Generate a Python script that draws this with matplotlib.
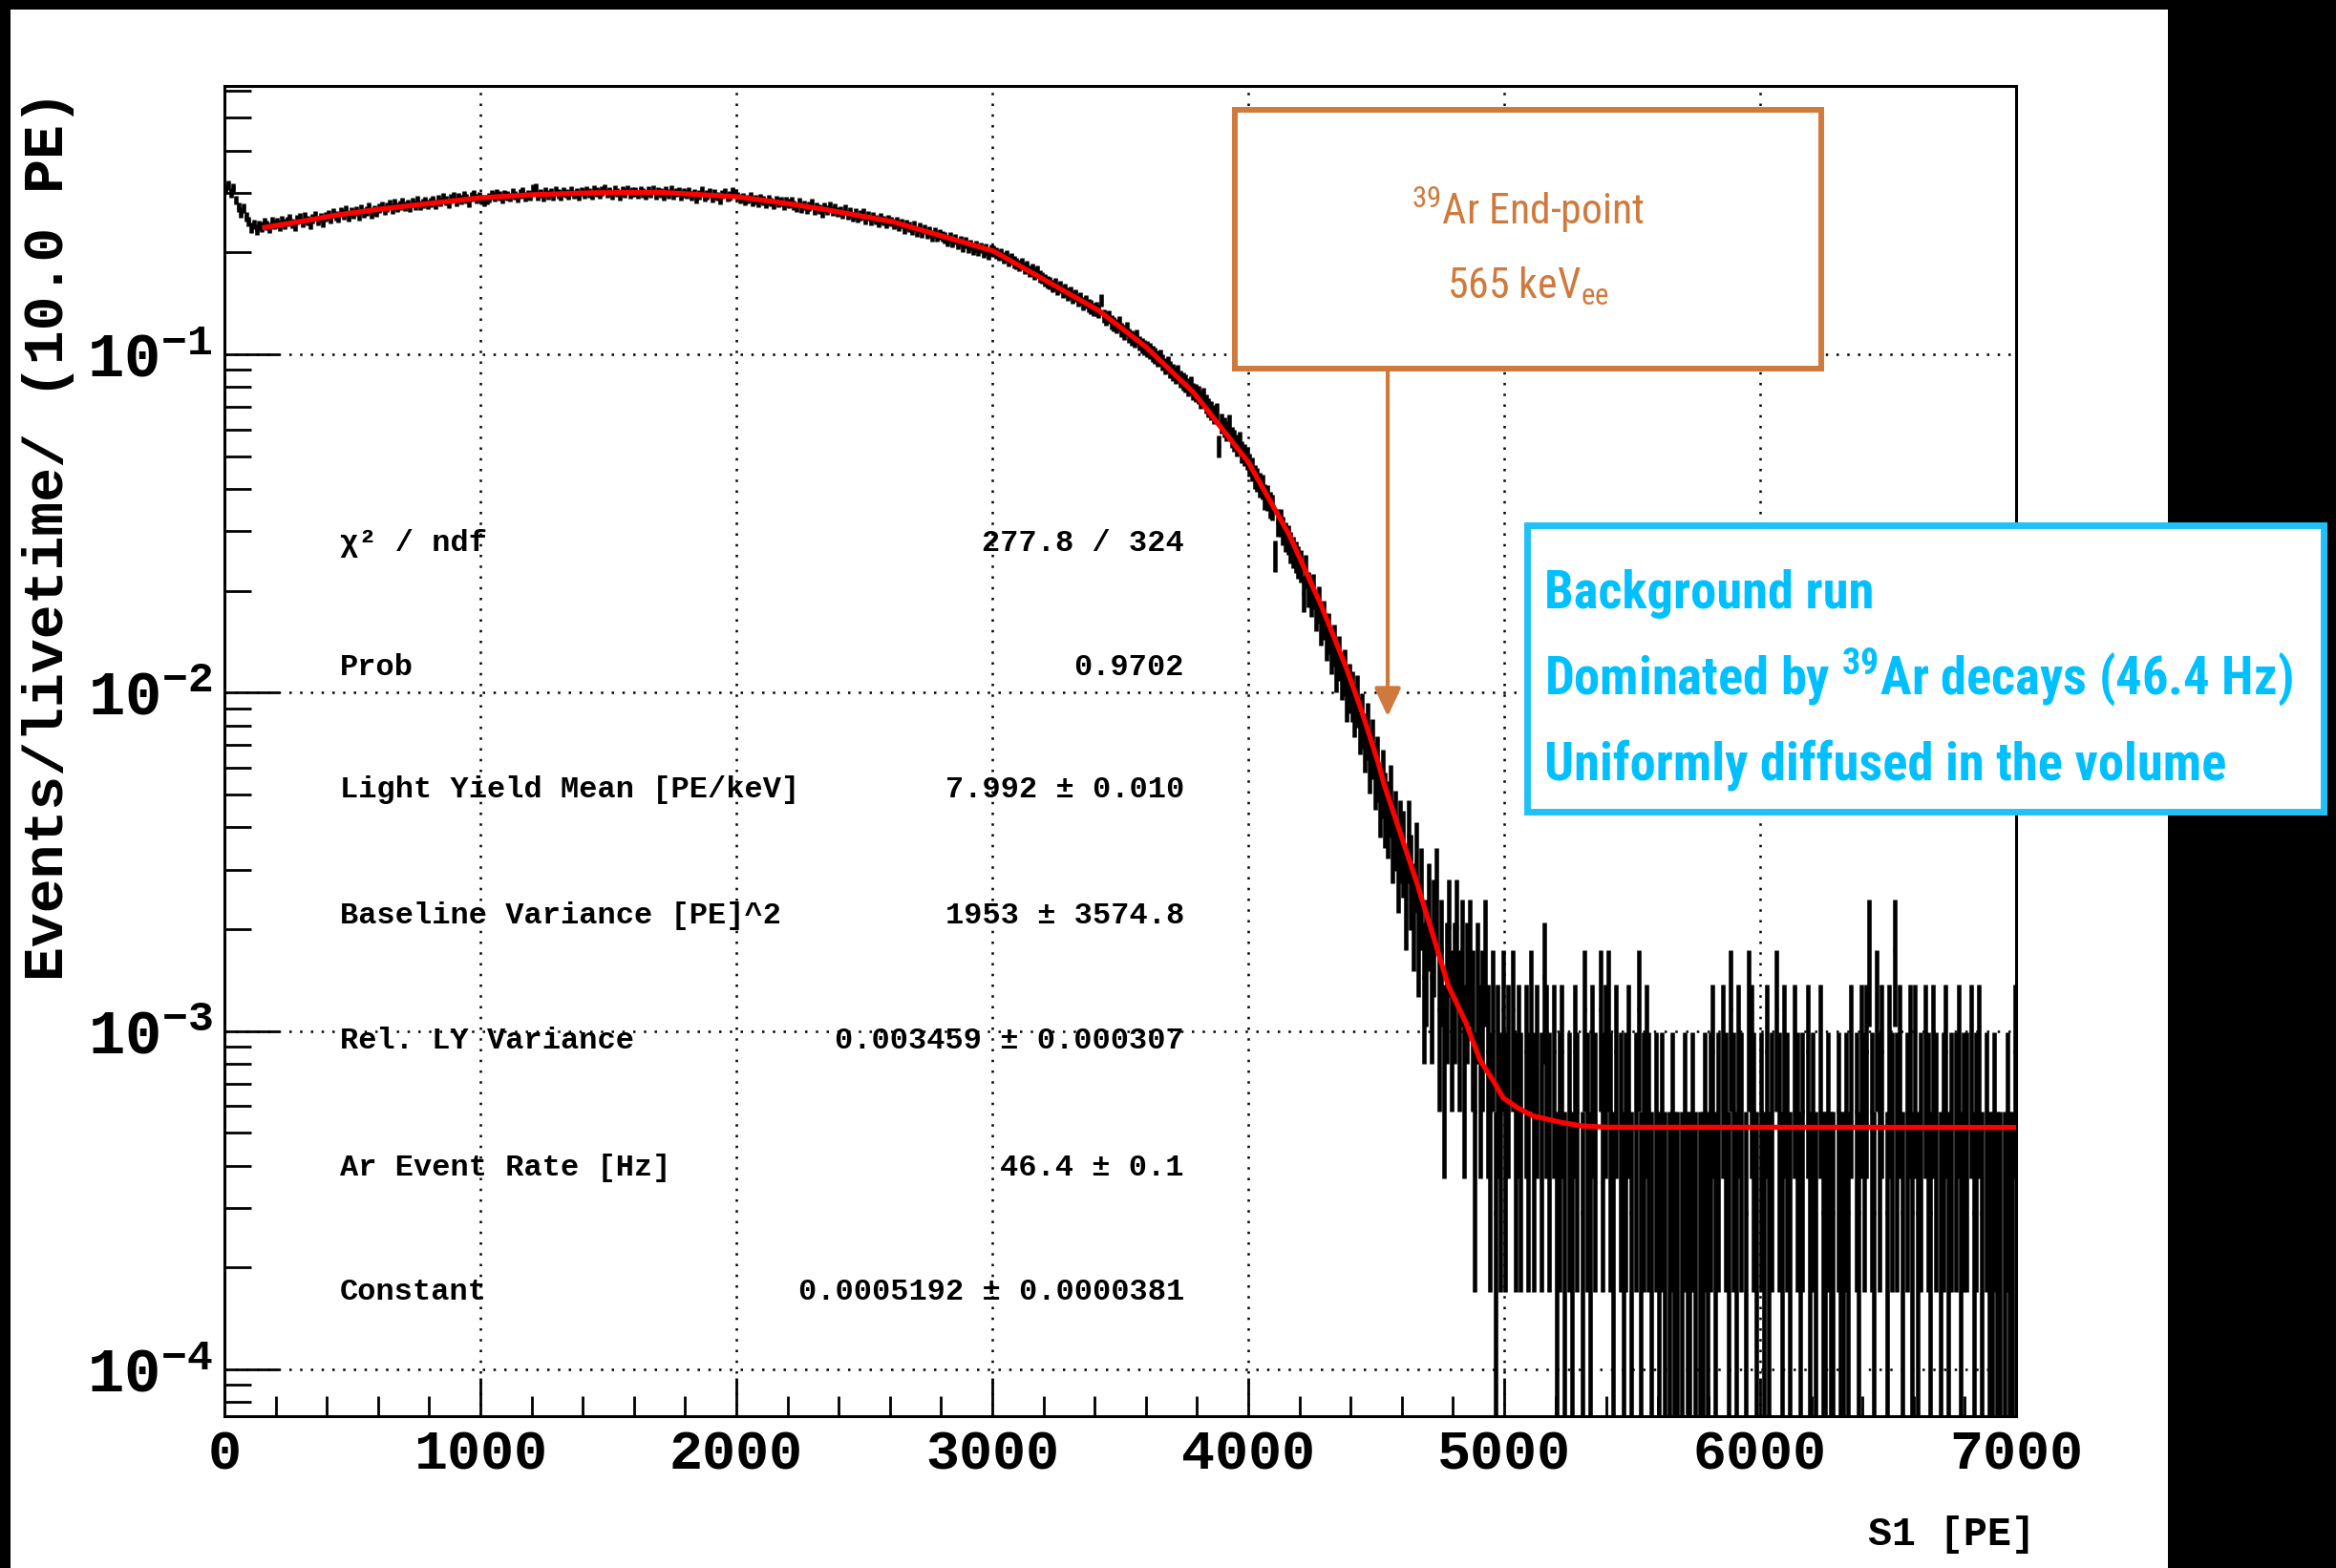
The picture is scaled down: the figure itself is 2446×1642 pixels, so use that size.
import numpy as np
import matplotlib.pyplot as plt
from matplotlib import font_manager
from matplotlib.patches import Rectangle
from matplotlib.ticker import MultipleLocator, LogLocator, NullFormatter

# S1 spectrum of the background run: raw counts in 10 PE bins, 0 - 7000 PE
counts_plateau = [  # 0 - 2000 PE
    1060, 1090, 1035, 1070, 985, 940, 905, 930, 880, 850, 815, 835, 805, 830, 820, 845, 830, 815, 850, 835,
    842, 825, 858, 837, 850, 866, 840, 828, 862, 871, 845, 880, 858, 836, 869, 884, 857, 872, 846, 878,
    890, 868, 902, 885, 874, 910, 893, 920, 881, 906, 897, 915, 888, 928, 902, 912, 935, 897, 921, 909,
    930, 946, 918, 941, 955, 929, 962, 938, 950, 972, 944, 958, 936, 969, 953, 980, 948, 963, 975, 957,
    968, 985, 956, 990, 972, 1004, 981, 962, 995, 1010, 977, 1001, 988, 1015, 996, 970, 1008, 1022, 993, 1006,
    990, 978, 985, 1002, 1020, 1008, 1030, 1015, 996, 1024, 1012, 1005, 1035, 1018, 1000, 1026, 1041, 1009, 1022, 1016,
    1065, 1070, 1012, 1030, 1005, 1044, 1021, 1037, 1010, 1052, 1027, 1015, 1040, 1031, 1019, 1048, 1024, 1036, 1011, 1045,
    1029, 1050, 1036, 1018, 1055, 1041, 1026, 1047, 1060, 1032, 1044, 1021, 1053, 1038, 1015, 1049, 1034, 1058, 1027, 1042,
    1040, 1025, 1052, 1036, 1019, 1046, 1031, 1057, 1022, 1043, 1035, 1012, 1048, 1029, 1054, 1020, 1038, 1045, 1016, 1033,
    1024, 1040, 1012, 1031, 995, 1022, 1046, 1008, 1019, 1034, 1000, 1027, 1011, 985, 1023, 1038, 1005, 1016, 1044, 1030,
]
counts_falloff = [  # 2000 - 4000 PE
    1010, 995, 1002, 980, 992, 1006, 975, 988, 970, 997, 983, 965, 990, 972, 958, 985, 969, 978, 950, 973,
    962, 978, 950, 941, 967, 935, 952, 925, 946, 960, 918, 939, 927, 905, 936, 921, 942, 912, 930, 908,
    915, 898, 926, 890, 905, 880, 899, 872, 888, 901, 866, 884, 858, 879, 863, 847, 871, 856, 842, 860,
    852, 836, 848, 825, 840, 812, 831, 820, 804, 826, 795, 815, 790, 808, 783, 797, 772, 790, 768, 781,
    770, 762, 748, 766, 740, 753, 732, 745, 720, 738, 711, 726, 705, 719, 698, 713, 690, 706, 684, 700,
    695, 688, 676, 684, 665, 672, 652, 660, 646, 638, 630, 641, 618, 626, 607, 614, 598, 606, 586, 580,
    570, 562, 560, 548, 555, 538, 546, 528, 533, 519, 525, 508, 514, 498, 505, 488, 494, 480, 476, 468,
    470, 462, 498, 448, 441, 445, 430, 424, 418, 426, 408, 401, 410, 392, 386, 380, 388, 372, 366, 362,
    358, 353, 346, 342, 335, 338, 326, 318, 322, 311, 305, 299, 303, 292, 287, 283, 276, 280, 268, 266,
    262, 254, 258, 246, 240, 236, 229, 232, 185, 216, 210, 205, 214, 196, 192, 186, 190, 178, 174, 170,
]
counts_edge = [  # 4000 - 5000 PE
    163, 158, 150, 147, 142, 140, 131, 130, 124, 122, 88, 110, 110, 104, 100, 98, 93, 90, 87, 84,
    82, 68, 79, 70, 66, 69, 60, 63, 55, 57, 50, 52, 46, 48, 41, 44, 39, 40, 34, 36,
    34, 31, 33, 28, 29, 25, 27, 22, 24, 20, 21, 17, 19, 16, 15, 17, 13, 14, 11, 13,
    12, 9, 13, 10, 8, 11, 7, 9, 5, 6, 8, 5, 7, 9, 4, 6, 3, 5, 7, 4,
    5, 7, 4, 6, 3, 5, 6, 4, 2, 5, 3, 4, 6, 3, 2, 4, 1, 3, 2, 4,
]
counts_tail = [  # 5000 - 7000 PE
    2, 3, 0, 4, 2, 3, 2, 0, 3, 2, 4, 2, 3, 0, 2, 5, 3, 2, 0, 3,
    1, 2, 3, 1, 0, 2, 1, 3, 2, 0, 1, 4, 2, 1, 3, 2, 0, 4, 2, 3,
    4, 2, 1, 3, 0, 2, 1, 2, 3, 1, 0, 2, 4, 1, 2, 3, 2, 1, 0, 2,
    1, 2, 1, 0, 1, 2, 1, 1, 0, 1, 2, 1, 1, 2, 1, 0, 1, 1, 2, 1,
    2, 3, 1, 2, 0, 3, 2, 1, 4, 2, 1, 3, 2, 0, 1, 4, 3, 2, 1, 0,
    2, 1, 3, 1, 2, 0, 4, 2, 1, 3, 2, 1, 0, 3, 2, 1, 2, 0, 3, 1,
    2, 1, 0, 3, 1, 1, 2, 1, 1, 0, 2, 1, 1, 2, 1, 3, 0, 2, 1, 3,
    2, 3, 6, 2, 1, 4, 2, 3, 0, 1, 3, 2, 6, 2, 3, 1, 0, 2, 3, 1,
    3, 1, 2, 0, 3, 2, 1, 3, 2, 0, 1, 2, 3, 1, 2, 0, 2, 3, 1, 2,
    2, 0, 3, 1, 2, 3, 1, 0, 2, 1, 1, 2, 1, 1, 0, 1, 2, 1, 1, 3,
]
bin_width = 10.0
rate_per_count = 2.9e-4  # events/livetime for one count

# fitted spectrum (39Ar beta shape + flat constant)
fit_const = 0.0005192
fit_pe = [157, 200, 300, 440, 600, 800, 1000, 1200, 1437, 1700, 2002, 2200, 2357, 2605, 2854,
          3004, 3228, 3414, 3601, 3787, 4000, 4160, 4284, 4384, 4446, 4508, 4533, 4600, 4657,
          4720, 4782, 4850, 4906, 4960, 4996, 5050, 5111, 5225, 5300, 5400, 7000]
fit_rate = [0.237, 0.240, 0.247, 0.258, 0.268, 0.279, 0.290, 0.296, 0.300, 0.301, 0.292, 0.279,
            0.267, 0.247, 0.218, 0.202, 0.162, 0.135, 0.105, 0.077, 0.048, 0.0293, 0.0182, 0.0118,
            0.0087, 0.0062, 0.0053, 0.00373, 0.00277, 0.00194, 0.00136, 0.00106, 0.00082, 0.000708,
            0.000635, 0.000595, 0.000562, 0.000537, 0.000525, 0.000520, fit_const]

stat_names = ['χ² / ndf', 'Prob', 'Light Yield Mean [PE/keV]', 'Baseline Variance [PE]^2',
              'Rel. LY Variance', 'Ar Event Rate [Hz]', 'Constant']
stat_values = ['277.8 / 324', '0.9702', '7.992 ± 0.010', '1953 ± 3574.8',
               '0.003459 ± 0.000307', '46.4 ± 0.1', f'{fit_const:.7f} ± 0.0000381']

x_ticks = [0, 1000, 2000, 3000, 4000, 5000, 6000, 7000]
y_ticks = [1e-4, 1e-3, 1e-2, 1e-1]
y_tick_labels = [r'$\mathregular{10^{-4}}$', r'$\mathregular{10^{-3}}$',
                 r'$\mathregular{10^{-2}}$', r'$\mathregular{10^{-1}}$']

endpoint_lines = [r'$\mathregular{^{39}}$Ar End-point', r'565 keV$\mathregular{_{ee}}$']
run_lines = ['Background run', r'Dominated by $\mathregular{^{39}}$Ar decays (46.4 Hz)',
             'Uniformly diffused in the volume']
endpoint_pe, endpoint_rate = 4545, 0.0085

orange = '#CF7A3C'
cyan_edge = '#21C1F8'
cyan_text = '#00C0FF'

plt.rcParams['font.family'] = 'Liberation Mono'
plt.rcParams['font.weight'] = 'bold'
plt.rcParams['axes.labelweight'] = 'bold'

installed = {f.name for f in font_manager.fontManager.ttflist}
narrow = next((n for n in ['Liberation Sans Narrow', 'Roboto Condensed', 'Open Sans Condensed',
                           'DejaVu Sans Condensed'] if n in installed), 'DejaVu Sans')

W, H = 2446, 1642
fig = plt.figure(figsize=(W / 100, H / 100), dpi=100, facecolor='black')
fig.add_artist(Rectangle((11 / W, 0), (2270 - 11) / W, (H - 10) / H, transform=fig.transFigure,
                         facecolor='white', edgecolor='none', zorder=-10))

ax = fig.add_axes([235 / W, 1 - 1483 / H, 1876 / W, 1393 / H])

counts = np.array(counts_plateau + counts_falloff + counts_edge + counts_tail, dtype=float)
centers = bin_width * (np.arange(counts.size) + 0.5)
filled = counts > 0
rate = counts * rate_per_count
err = np.sqrt(counts) * rate_per_count
lo = np.clip(rate - err, 1e-9, None)
hi = rate + err

ax.vlines(centers[filled], lo[filled], hi[filled], color='black', lw=3.3, zorder=2)
ax.hlines(rate[filled], centers[filled] - bin_width / 2, centers[filled] + bin_width / 2,
          color='black', lw=3.3, zorder=2)
ax.plot(fit_pe, fit_rate, color='red', lw=3.8, zorder=3)

ax.set_yscale('log')
ax.set_xlim(0, 7000)
ax.set_ylim(7.28e-5, 0.6206)

ax.set_xticks(x_ticks)
ax.xaxis.set_minor_locator(MultipleLocator(200))
ax.set_yticks(y_ticks, y_tick_labels)
ax.yaxis.set_minor_locator(LogLocator(base=10, subs=np.arange(2, 10)))
ax.yaxis.set_minor_formatter(NullFormatter())

ax.tick_params(axis='x', which='major', direction='in', length=29, width=2, labelsize=42, pad=10)
ax.tick_params(axis='x', which='minor', direction='in', length=15, width=2)
ax.tick_params(axis='y', which='major', direction='in', length=41, width=2, labelsize=46, pad=9)
ax.tick_params(axis='y', which='minor', direction='in', length=20, width=2)
ax.tick_params(top=False, right=False, which='both')

ax.grid(which='major', color='black', linestyle=(0, (1, 3.5)), lw=1.8)
ax.set_axisbelow(True)
for s in ax.spines.values():
    s.set_linewidth(2.2)

fig.text(23 / W, 1 - 94 / H, 'Events/livetime/ (10.0 PE)', fontsize=43, fontweight='bold',
         rotation=90, ha='left', va='top')
ax.set_xlabel('S1 [PE]', fontsize=30, fontweight='bold', loc='right')
ax.xaxis.set_label_coords(1.0107, -0.0747)

# fit results
stat_y = [0.656, 0.563, 0.471, 0.376, 0.282, 0.187, 0.093]
for name, val, yy in zip(stat_names, stat_values, stat_y):
    ax.text(0.0645, yy, name, transform=ax.transAxes, fontsize=23, ha='left', va='center')
    ax.text(0.5357, yy, val, transform=ax.transAxes, fontsize=23, ha='right', va='center')

# end-point callout
fig.add_artist(Rectangle((1293 / W, 1 - 386 / H), (1907 - 1293) / W, (386 - 115) / H,
                         transform=fig.transFigure, facecolor='white', edgecolor=orange,
                         lw=4.3, zorder=5))
ep_texts = [fig.text(1600 / W, 1 - yb / H, s, color=orange, fontsize=45, family=narrow,
                     fontweight='normal', fontstretch='condensed', ha='center', va='baseline',
                     zorder=6)
            for s, yb in zip(endpoint_lines, [235, 313])]
ax.annotate('', xy=(endpoint_pe, endpoint_rate), xycoords='data',
            xytext=(endpoint_pe, 1 - 389 / H), textcoords=('data', 'figure fraction'),
            arrowprops=dict(arrowstyle='-|>,head_length=0.6,head_width=0.28', color=orange,
                            lw=3, mutation_scale=30, shrinkA=0, shrinkB=0), zorder=4)

# run description box
fig.add_artist(Rectangle((1599 / W, 1 - 850 / H), (2433 - 1599) / W, (850 - 550) / H,
                         transform=fig.transFigure, facecolor='white', edgecolor=cyan_edge,
                         lw=5, zorder=5))
run_texts = [fig.text(1617 / W, 1 - yb / H, s, color=cyan_text, fontsize=52, family=narrow,
                      fontweight='bold', fontstretch='condensed', ha='left', va='baseline',
                      zorder=6)
             for s, yb in zip(run_lines, [637, 727, 817])]

# keep the callout texts inside their boxes
renderer = fig.canvas.get_renderer()
for texts, widths in [(ep_texts, [250, 169]), (run_texts, [350, 784, 720])]:
    scale = min(w / t.get_window_extent(renderer).width for t, w in zip(texts, widths))
    if scale < 1:
        for t in texts:
            t.set_fontsize(t.get_fontsize() * scale)

fig.savefig('out.png', dpi=100)
